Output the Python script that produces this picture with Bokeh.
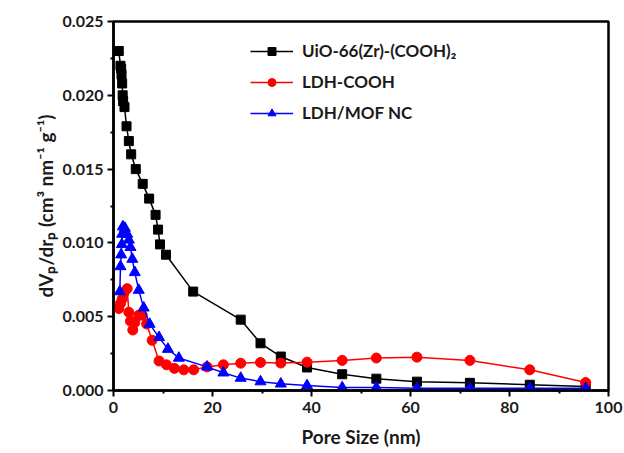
from bokeh.plotting import figure
from bokeh.models import FixedTicker, PrintfTickFormatter, Legend, LegendItem, Range1d, Title
from bokeh.embed import file_html
from bokeh.resources import INLINE

# ---- data ----
uio_x = [1.07, 1.41, 1.55, 1.62, 1.75, 1.85, 1.95, 2.22, 2.63, 3.1, 3.57, 4.5, 5.9, 7.2,
         8.5, 9.0, 9.4, 10.6, 16.1, 25.7, 29.7, 33.8, 39.1, 46.2, 53.1, 61.3, 72.0, 84.1, 95.4]
uio_y = [0.0230, 0.0220, 0.0218, 0.0214, 0.0208, 0.0200, 0.0196, 0.0192, 0.0179, 0.0169, 0.0160,
         0.0150, 0.0140, 0.0130, 0.0119, 0.0109, 0.0099, 0.0092, 0.0067, 0.0048, 0.0032, 0.0023,
         0.00156, 0.0011, 0.0008, 0.0006, 0.00052, 0.00039, 0.00027]

ldh_x = [1.07, 1.41, 1.75, 2.09, 2.76, 3.1, 3.43, 3.9, 4.3, 5.1, 5.8, 6.7, 7.8, 9.2, 10.7,
         12.3, 14.2, 16.2, 18.9, 22.2, 25.7, 29.7, 33.8, 39.1, 46.2, 53.1, 61.3, 72.0, 84.1, 95.4]
ldh_y = [0.00555, 0.0059, 0.0062, 0.0066, 0.0069, 0.0053, 0.0047, 0.0041, 0.0046, 0.0051, 0.0051,
         0.0045, 0.0034, 0.0020, 0.00174, 0.0015, 0.0014, 0.0014, 0.0016, 0.00174, 0.00185,
         0.0019, 0.00186, 0.00192, 0.00204, 0.0022, 0.00226, 0.00204, 0.0014, 0.00054]

nc_x = [1.28, 1.41, 1.55, 1.68, 1.75, 1.89, 2.3, 2.76, 3.1, 3.43, 3.8, 4.3, 5.1, 6.1, 7.3,
        9.2, 11.0, 13.2, 18.9, 22.2, 25.7, 29.7, 33.8, 39.1, 46.2, 53.1, 61.3, 72.0, 84.1, 95.4]
nc_y = [0.0067, 0.0084, 0.0092, 0.0099, 0.0106, 0.0111, 0.0110, 0.0106, 0.0102, 0.0097, 0.0089,
        0.0080, 0.0068, 0.0056, 0.0045, 0.0036, 0.0028, 0.0022, 0.0016, 0.0012, 0.00084, 0.0006,
        0.00045, 0.00034, 0.0002, 0.0002, 0.00015, 0.00015, 0.00015, 0.00015]

series_names = ["UiO-66(Zr)-(COOH)\u2082", "LDH-COOH", "LDH/MOF NC"]
x_ticks = [0, 20, 40, 60, 80, 100]
x_minor = [10, 30, 50, 70, 90]
y_ticks = [0.0, 0.005, 0.010, 0.015, 0.020, 0.025]
y_minor = [0.0025, 0.0075, 0.0125, 0.0175, 0.0225]
x_title = "Pore Size (nm)"
y_title = "dV\u209a/dr\u209a (cm\u00b3 nm\u207b\u00b9 g\u207b\u00b9)"

FONT = "Lato"
TXT = "#1a1a1a"

p = figure(width=624, height=453, output_backend="svg", toolbar_location=None,
           x_range=Range1d(0, 100), y_range=Range1d(0, 0.025),
           min_border_left=113, min_border_right=16, min_border_top=21, min_border_bottom=63)
p.frame_width = 495
p.frame_height = 369
p.grid.visible = False
p.outline_line_color = "black"
p.outline_line_width = 2.5
p.background_fill_color = "white"
p.border_fill_color = "white"

for ax in (p.xaxis[0], p.yaxis[0]):
    ax.axis_line_width = 2.5
    ax.major_tick_line_width = 2
    ax.minor_tick_line_width = 2
    ax.major_tick_out = 6
    ax.major_tick_in = 0
    ax.minor_tick_out = 3
    ax.minor_tick_in = 0
    ax.major_label_text_font = FONT
    ax.major_label_text_font_style = "bold"
    ax.major_label_text_font_size = "16px"
    ax.major_label_text_color = TXT
    ax.axis_label_text_font = FONT
    ax.axis_label_text_font_style = "bold"
    ax.axis_label_text_font_size = "19px"
    ax.axis_label_text_color = TXT

p.xaxis[0].ticker = FixedTicker(ticks=x_ticks, minor_ticks=x_minor)
p.yaxis[0].ticker = FixedTicker(ticks=y_ticks, minor_ticks=y_minor)
p.yaxis[0].formatter = PrintfTickFormatter(format="%.3f")
p.xaxis[0].major_label_standoff = 5
p.yaxis[0].major_label_standoff = 4
p.xaxis[0].axis_label = x_title
p.xaxis[0].axis_label_standoff = 9

# y title as a side-panel title, shifted slightly downward as in the reference
ytitle = Title(text=y_title, align="center", offset=-22, standoff=6,
               text_font=FONT, text_font_style="bold", text_font_size="19px",
               text_color=TXT)
p.add_layout(ytitle, "left")

r1l = p.line(uio_x, uio_y, line_color="black", line_width=1.5)
r1m = p.scatter(uio_x, uio_y, marker="square", size=9, fill_color="black", line_color="black")
r2l = p.line(ldh_x, ldh_y, line_color="red", line_width=1.5)
r2m = p.scatter(ldh_x, ldh_y, marker="circle", size=10, fill_color="red", line_color="red")
r3l = p.line(nc_x, nc_y, line_color="blue", line_width=1.5)
r3m = p.scatter(nc_x, nc_y, marker="triangle", size=11, fill_color="blue", line_color="blue")

legend = Legend(items=[
    LegendItem(label=series_names[0], renderers=[r1l, r1m]),
    LegendItem(label=series_names[1], renderers=[r2l, r2m]),
    LegendItem(label=series_names[2], renderers=[r3l, r3m]),
], location=(137, 267), orientation="vertical")
legend.border_line_color = None
legend.background_fill_alpha = 0
legend.padding = 0
legend.margin = 0
legend.spacing = 10
legend.glyph_width = 43
legend.glyph_height = 20
legend.label_height = 20
legend.label_standoff = 9
legend.label_text_font = FONT
legend.label_text_font_style = "bold"
legend.label_text_font_size = "17px"
legend.label_text_color = TXT
p.add_layout(legend, "center")

open("out.html", "w").write(file_html(p, INLINE))
